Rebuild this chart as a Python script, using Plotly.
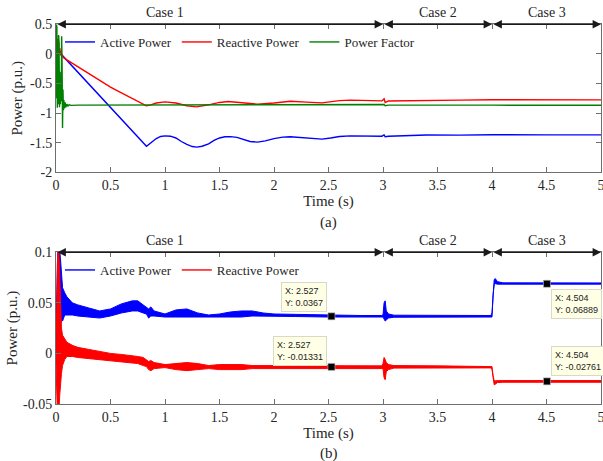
import plotly.graph_objects as go

# ---------------- data: top panel (a) ----------------
t_active_a = [0, 0.03, 0.05, 0.06, 0.83, 0.87, 0.92, 0.96, 1.0, 1.05, 1.1, 1.15, 1.2, 1.25, 1.29,
              1.34, 1.4, 1.45, 1.5, 1.55, 1.6, 1.66, 1.72, 1.78, 1.85, 1.92, 2.0, 2.08, 2.15,
              2.25, 2.35, 2.44, 2.52, 2.6, 2.7, 2.8, 2.9, 2.99, 3.01, 3.02, 3.05, 3.2, 3.4,
              3.7, 4.0, 4.5, 5.0]
active_a = [0.0, 0.02, -0.02, -0.03, -1.56, -1.50, -1.43, -1.395, -1.385, -1.39, -1.42, -1.48,
            -1.53, -1.565, -1.575, -1.56, -1.52, -1.46, -1.42, -1.40, -1.397, -1.41, -1.45,
            -1.48, -1.49, -1.47, -1.43, -1.405, -1.40, -1.41, -1.43, -1.44, -1.42, -1.395,
            -1.385, -1.39, -1.395, -1.39, -1.37, -1.40, -1.39, -1.38, -1.37, -1.372, -1.365,
            -1.367, -1.368]

t_reactive_a = [0, 0.005, 0.01, 0.015, 0.02, 0.025, 0.03, 0.035, 0.04, 0.045, 0.05, 0.055,
                0.06, 0.067, 0.1, 0.2, 0.3, 0.4, 0.5, 0.6, 0.7, 0.83, 0.87, 0.92, 1.0, 1.05,
                1.1, 1.2, 1.29, 1.4, 1.5, 1.58, 1.7, 1.85, 2.0, 2.15, 2.3, 2.44, 2.6, 2.7,
                2.9, 2.99, 3.01, 3.02, 3.05, 3.3, 3.7, 4.0, 4.5, 5.0]
reactive_a = [0.0, 0.3, -0.1, 0.25, -0.05, 0.2, 0.0, 0.1, -0.02, 0.05, -0.03, 0.0, -0.04,
              -0.06, -0.10, -0.215, -0.33, -0.445, -0.56, -0.66, -0.76, -0.878, -0.86, -0.83,
              -0.81, -0.815, -0.83, -0.875, -0.895, -0.86, -0.82, -0.805, -0.83, -0.85, -0.83,
              -0.80, -0.815, -0.828, -0.79, -0.78, -0.79, -0.794, -0.76, -0.82, -0.795,
              -0.785, -0.78, -0.775, -0.776, -0.777]

t_pf_a = [0, 0.004, 0.008, 0.012, 0.016, 0.02, 0.024, 0.028, 0.032, 0.036, 0.04, 0.044,
          0.048, 0.052, 0.056, 0.06, 0.064, 0.068, 0.072, 0.078, 0.084, 0.09, 0.1, 0.11,
          0.12, 0.14, 0.2, 1.0, 2.0, 3.0, 3.01, 3.02, 3.05, 4.0, 5.0]
pf_a = [-0.75, 0.5, 0.45, -0.91, -0.5, -0.85, 0.32, 0.2, -0.9, -0.3, -0.85, -0.4, -0.8, 0.3,
        -0.2, -1.25, -0.6, -0.95, -0.78, -0.92, -0.82, -0.9, -0.85, -0.88, -0.86, -0.87,
        -0.865, -0.863, -0.865, -0.865, -0.855, -0.875, -0.865, -0.866, -0.867]

# ---------------- data: bottom panel (b), oscillation envelopes ----------------
t_b = [0, 0.005, 0.01, 0.015, 0.02, 0.025, 0.03, 0.035, 0.04, 0.045, 0.05, 0.06, 0.08, 0.1,
       0.15, 0.2, 0.3, 0.4, 0.5, 0.6, 0.7, 0.75, 0.8, 0.83, 0.85, 0.87, 0.9, 1.0, 1.1, 1.2,
       1.3, 1.4, 1.5, 1.6, 1.7, 1.8, 1.9, 2.0, 2.2, 2.5, 2.8, 2.99, 3.0, 3.01, 3.02, 3.03,
       3.05, 3.1, 3.5, 3.99, 4.0, 4.01, 4.02, 4.03, 4.05, 4.1, 4.5, 5.0]
active_b_hi = [0.018, 0.05, 0.08, 0.1, 0.1, 0.1, 0.1, 0.1, 0.095, 0.085, 0.075, 0.065, 0.06,
               0.056, 0.05, 0.048, 0.045, 0.042, 0.044, 0.049, 0.052, 0.052, 0.048, 0.045,
               0.044, 0.046, 0.042, 0.039, 0.043, 0.044, 0.040, 0.038, 0.039, 0.041, 0.042,
               0.042, 0.040, 0.039, 0.0385, 0.0378, 0.0375, 0.0375, 0.038, 0.050, 0.052,
               0.042, 0.039, 0.0378, 0.0375, 0.0375, 0.040, 0.065, 0.073, 0.074, 0.071,
               0.0698, 0.0697, 0.0697]
active_b_lo = [0.0, 0.0, 0.005, 0.02, 0.03, 0.04, 0.045, 0.04, 0.035, 0.03, 0.035, 0.032,
               0.038, 0.038, 0.038, 0.037, 0.036, 0.035, 0.037, 0.040, 0.042, 0.042, 0.040,
               0.039, 0.035, 0.037, 0.037, 0.036, 0.036, 0.036, 0.036, 0.036, 0.036, 0.036,
               0.036, 0.037, 0.037, 0.037, 0.0365, 0.036, 0.036, 0.036, 0.036, 0.034, 0.032,
               0.033, 0.035, 0.0358, 0.036, 0.036, 0.036, 0.058, 0.068, 0.069, 0.0685,
               0.0685, 0.0685, 0.0685]
reactive_b_hi = [0.0, 0.04, 0.1, 0.1, 0.1, 0.1, 0.09, 0.07, 0.05, 0.04, 0.025, 0.018, 0.014,
                 0.011, 0.008, 0.006, 0.004, 0.002, 0.0, -0.001, -0.002, -0.003, -0.004,
                 -0.006, -0.008, -0.007, -0.009, -0.011, -0.010, -0.009, -0.010, -0.012,
                 -0.011, -0.011, -0.011, -0.012, -0.012, -0.012, -0.0122, -0.0123, -0.0123,
                 -0.0123, -0.010, -0.004, -0.006, -0.009, -0.011, -0.012, -0.0123, -0.0123,
                 -0.013, -0.022, -0.027, -0.027, -0.0268, -0.0268, -0.0268, -0.0268]
reactive_b_lo = [-0.01, -0.05, -0.05, -0.05, -0.05, -0.05, -0.05, -0.04, -0.03, -0.025,
                 -0.02, -0.012, -0.006, -0.003, -0.003, -0.004, -0.005, -0.006, -0.007,
                 -0.008, -0.009, -0.010, -0.012, -0.013, -0.016, -0.017, -0.015, -0.014,
                 -0.016, -0.017, -0.016, -0.015, -0.016, -0.016, -0.016, -0.015, -0.015,
                 -0.015, -0.0145, -0.0143, -0.0143, -0.0143, -0.015, -0.024, -0.026, -0.018,
                 -0.016, -0.0145, -0.0143, -0.0143, -0.016, -0.026, -0.031, -0.0305, -0.0288,
                 -0.0285, -0.0285, -0.0285]

# data tips
tip_x = [2.527, 2.527, 4.504, 4.504]
tip_y = [0.0367, -0.01331, 0.06889, -0.02761]
tip_label_y = ["0.0367", "-0.01331", "0.06889", "-0.02761"]

# axes / annotations text
x_tickvals = [0, 0.5, 1, 1.5, 2, 2.5, 3, 3.5, 4, 4.5, 5]
x_ticktext = ["0", "0.5", "1", "1.5", "2", "2.5", "3", "3.5", "4", "4.5", "5"]
ya_tickvals = [-2, -1.5, -1, -0.5, 0, 0.5]
ya_ticktext = ["-2", "-1.5", "-1", "-0.5", "0", "0.5"]
yb_tickvals = [-0.05, 0, 0.05, 0.1]
yb_ticktext = ["-0.05", "0", "0.05", "0.1"]
case_start = [0, 3, 4]
case_end = [3, 4, 5]
case_text = ["Case 1", "Case 2", "Case 3"]
case_text_x = [1.0, 3.5, 4.5]

BLUE = "#0000FF"
RED = "#FF0000"
GREEN = "#008000"
SERIF = "Liberation Serif"
SANS = "Liberation Sans"
AXC = "#6e6e6e"
TXT = "#262626"

W, H = 603, 461
def px_y(p):
    return (H - p) / H

fig = go.Figure()

# top panel
fig.add_trace(go.Scatter(x=t_active_a, y=active_a, mode="lines", name="Active Power",
                         line=dict(color=BLUE, width=1.4), xaxis="x", yaxis="y", legend="legend"))
fig.add_trace(go.Scatter(x=t_reactive_a, y=reactive_a, mode="lines", name="Reactive Power",
                         line=dict(color=RED, width=1.4), xaxis="x", yaxis="y", legend="legend"))
fig.add_trace(go.Scatter(x=t_pf_a, y=pf_a, mode="lines", name="Power Factor",
                         line=dict(color=GREEN, width=1.4), xaxis="x", yaxis="y", legend="legend"))

# bottom panel envelopes
for lo, hi, col in [(active_b_lo, active_b_hi, BLUE), (reactive_b_lo, reactive_b_hi, RED)]:
    fig.add_trace(go.Scatter(x=t_b, y=lo, mode="lines", line=dict(color=col, width=1),
                             showlegend=False, xaxis="x2", yaxis="y2", hoverinfo="skip"))
    fig.add_trace(go.Scatter(x=t_b, y=hi, mode="lines", line=dict(color=col, width=1),
                             fill="tonexty", fillcolor=col, showlegend=False,
                             xaxis="x2", yaxis="y2", hoverinfo="skip"))
# legend entries for bottom panel
fig.add_trace(go.Scatter(x=[None], y=[None], mode="lines", name="Active Power",
                         line=dict(color=BLUE, width=1.4), xaxis="x2", yaxis="y2", legend="legend2"))
fig.add_trace(go.Scatter(x=[None], y=[None], mode="lines", name="Reactive Power",
                         line=dict(color=RED, width=1.4), xaxis="x2", yaxis="y2", legend="legend2"))
# data tip markers
fig.add_trace(go.Scatter(x=tip_x, y=tip_y, mode="markers", showlegend=False,
                         marker=dict(symbol="square", size=7, color="black",
                                     line=dict(color="#bdbdbd", width=0.6)),
                         xaxis="x2", yaxis="y2"))

x_dom = [56 / W, 601 / W]
axis_common = dict(showline=True, linecolor=AXC, linewidth=1, mirror="ticks", ticks="inside",
                   ticklen=5, tickcolor=AXC, showgrid=False, zeroline=False,
                   ticklabeloverflow="allow", automargin=False,
                   tickfont=dict(family=SERIF, size=14, color=TXT))
fig.update_layout(
    width=W, height=H, margin=dict(l=0, r=0, t=0, b=0, autoexpand=False),
    paper_bgcolor="white", plot_bgcolor="white",
    xaxis=dict(domain=x_dom, range=[0, 5], tickvals=x_tickvals, ticktext=x_ticktext,
               anchor="y", title=dict(text="Time (s)", font=dict(family=SERIF, size=15, color=TXT),
                                      standoff=2), **axis_common),
    yaxis=dict(domain=[px_y(172.3), px_y(24.3)], range=[-2, 0.5], tickvals=ya_tickvals,
               ticktext=ya_ticktext, anchor="x",
               title=dict(text="Power (p.u.)", font=dict(family=SERIF, size=15, color=TXT),
                          standoff=3), **axis_common),
    xaxis2=dict(domain=x_dom, range=[0, 5], tickvals=x_tickvals, ticktext=x_ticktext,
                anchor="y2", title=dict(text="Time (s)", font=dict(family=SERIF, size=15, color=TXT),
                                        standoff=2), **axis_common),
    yaxis2=dict(domain=[px_y(404), px_y(252.3)], range=[-0.05, 0.1], tickvals=yb_tickvals,
                ticktext=yb_ticktext, anchor="x2",
                title=dict(text="Power (p.u.)", font=dict(family=SERIF, size=15, color=TXT),
                           standoff=1), **axis_common),
    legend=dict(orientation="h", x=60 / W, y=px_y(42), xanchor="left", yanchor="middle",
                bgcolor="rgba(0,0,0,0)", font=dict(family=SERIF, size=13, color=TXT),
                itemwidth=30, traceorder="normal"),
    legend2=dict(orientation="h", x=60 / W, y=px_y(270), xanchor="left", yanchor="middle",
                 bgcolor="rgba(0,0,0,0)", font=dict(family=SERIF, size=13, color=TXT),
                 itemwidth=30, traceorder="normal"),
    showlegend=True,
)

annotations = []
for xr, yr, ytop in [("x", "y", 0.5), ("x2", "y2", 0.1)]:
    for s, e, txt, tx in zip(case_start, case_end, case_text, case_text_x):
        annotations.append(dict(x=e, y=ytop, ax=s, ay=ytop, xref=xr, yref=yr, axref=xr, ayref=yr,
                                text="", showarrow=True, arrowside="end+start", arrowhead=2,
                                startarrowhead=2, arrowsize=1.4, startarrowsize=1.4,
                                arrowwidth=1.2, arrowcolor="#1a1a1a", standoff=0, startstandoff=0))
        annotations.append(dict(x=tx, y=ytop, xref=xr, yref=yr, text=txt, showarrow=False,
                                yanchor="bottom", yshift=2,
                                font=dict(family=SERIF, size=14, color=TXT)))
# panel labels
annotations.append(dict(x=0.5 * (x_dom[0] + x_dom[1]), y=px_y(222), xref="paper", yref="paper",
                        xanchor="center", yanchor="middle",
                        text="(a)", showarrow=False, font=dict(family=SERIF, size=15, color=TXT)))
annotations.append(dict(x=0.5 * (x_dom[0] + x_dom[1]), y=px_y(453), xref="paper", yref="paper",
                        xanchor="center", yanchor="middle",
                        text="(b)", showarrow=False, font=dict(family=SERIF, size=15, color=TXT)))
# data tips
tip_pos = [("right", "bottom", -4, 4), ("right", "bottom", -4, 1),
           ("left", "top", 4, -5), ("left", "bottom", 4, 5)]
for xv, yv, ly, (xa, ya, xs, ys) in zip(tip_x, tip_y, tip_label_y, tip_pos):
    annotations.append(dict(x=xv, y=yv, xref="x2", yref="y2", showarrow=False,
                            text=f"X: {xv:.3f}<br>Y: {ly}", align="left",
                            xanchor=xa, yanchor=ya, xshift=xs, yshift=ys,
                            bgcolor="#FFFFE6", bordercolor="#d9d9c8", borderwidth=1, borderpad=3,
                            font=dict(family=SANS, size=9, color="#222")))
fig.update_layout(annotations=annotations)

fig.write_html("out.html", config={"displayModeBar": False},
               post_script="document.body.style.margin='0';")
